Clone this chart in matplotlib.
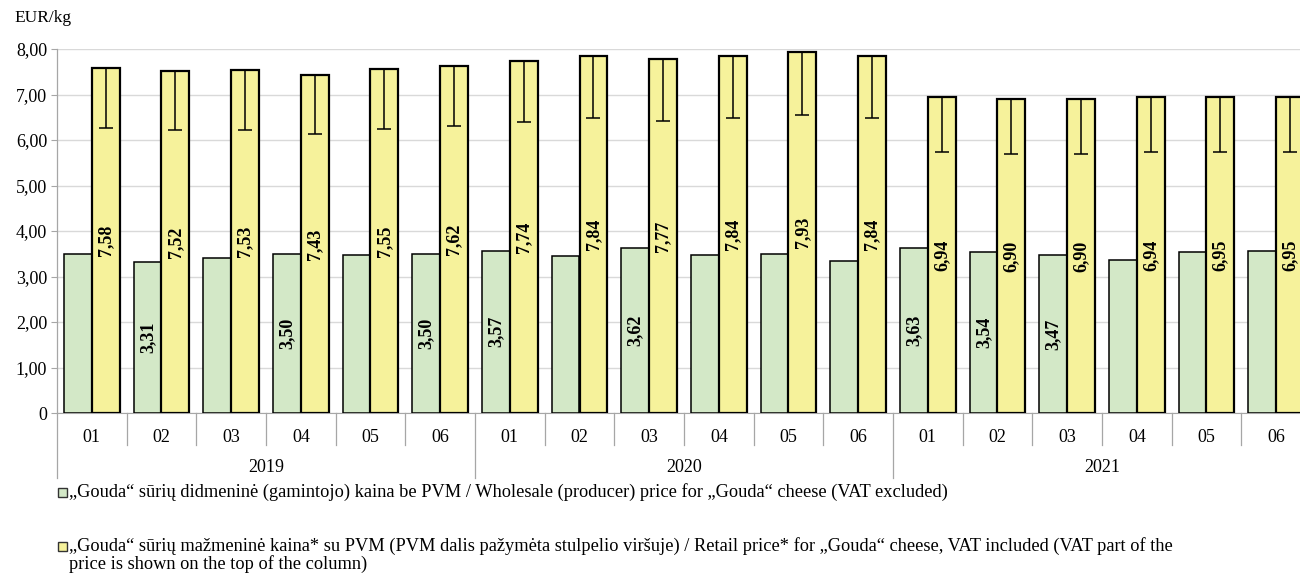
import numpy as np
import matplotlib
matplotlib.use("Agg")
import matplotlib.pyplot as plt
import matplotlib.transforms as mtransforms
from matplotlib.patches import Rectangle

plt.rcParams.update({
    "font.family": ["Liberation Serif", "DejaVu Serif"],
    "font.size": 13,
})

months = ["01", "02", "03", "04", "05", "06"] * 3
years = ["2019", "2020", "2021"]

wholesale = [3.50, 3.31, 3.40, 3.50, 3.47, 3.50,
             3.57, 3.45, 3.62, 3.47, 3.49, 3.34,
             3.63, 3.54, 3.47, 3.37, 3.54, 3.57]
retail = [7.58, 7.52, 7.53, 7.43, 7.55, 7.62,
          7.74, 7.84, 7.77, 7.84, 7.93, 7.84,
          6.94, 6.90, 6.90, 6.94, 6.95, 6.95]
# retail price without VAT (lower end of the VAT mark)
retail_no_vat = [6.26, 6.21, 6.22, 6.14, 6.24, 6.30,
                 6.40, 6.48, 6.42, 6.48, 6.55, 6.48,
                 5.74, 5.70, 5.70, 5.74, 5.74, 5.74]
# wholesale bars that carry a value label
wholesale_labelled = [1, 3, 5, 6, 8, 12, 13, 14]

green = "#d3e8c7"
yellow = "#f6f29b"
grey = "#a6a6a6"

fig = plt.figure(figsize=(13, 5.76), dpi=100)
ax = fig.add_axes([57 / 1300, 1 - 413 / 576, (1311 - 57) / 1300, (413 - 49) / 576])

x = np.arange(len(months))
w = 0.4
ax.bar(x - w / 2, wholesale, w, color=green, edgecolor="black", linewidth=1.1, zorder=3)
ax.bar(x + w / 2, retail, w, color=yellow, edgecolor="black", linewidth=1.6, zorder=3)

lower = np.array(retail) - np.array(retail_no_vat)
ax.errorbar(x + w / 2, retail, yerr=[lower, np.zeros(len(x))], fmt="none",
            ecolor="black", elinewidth=1.1, capsize=5, capthick=1.1, zorder=4)

for i, v in enumerate(retail):
    ax.text(x[i] + w / 2, v / 2, f"{v:.2f}".replace(".", ","), rotation=90,
            ha="center", va="center", fontsize=13, fontweight="bold", zorder=5)
for i in wholesale_labelled:
    v = wholesale[i]
    ax.text(x[i] - w / 2, v / 2, f"{v:.2f}".replace(".", ","), rotation=90,
            ha="center", va="center", fontsize=13, fontweight="bold", zorder=5)

ax.set_xlim(-0.5, len(months) - 0.5)
ax.set_ylim(0, 8)
ax.set_yticks(np.arange(0, 9, 1))
ax.set_yticklabels(["0"] + [f"{v:.2f}".replace(".", ",") for v in np.arange(1, 9, 1)])
ax.yaxis.grid(True, color="#d9d9d9", linewidth=1.0, zorder=0)
ax.set_axisbelow(True)
for s in ["top", "right", "left"]:
    ax.spines[s].set_visible(False)
ax.spines["bottom"].set_color(grey)
ax.tick_params(axis="y", length=4, color=grey, pad=3, labelsize=13)
ax.set_xticks([])

# category axis: month labels, year labels and separators
trans = mtransforms.blended_transform_factory(ax.transData, ax.transAxes)
px = 1 / (413 - 49)
for i, m in enumerate(months):
    ax.text(i, -24 * px, m, transform=trans, ha="center", va="center", fontsize=13)
for k, yr in enumerate(years):
    ax.text(k * 6 + 2.5, -54 * px, yr, transform=trans, ha="center", va="center", fontsize=13)
for b in np.arange(-0.5, len(months), 1):
    depth = 65 if (b + 0.5) % 6 == 0 else 32
    ax.plot([b, b], [0, -depth * px], transform=trans, color=grey, linewidth=0.9, clip_on=False)
ax.plot([-0.5, -0.5], [1, 0], transform=trans, color=grey, linewidth=0.9, clip_on=False)

fig.text(14 / 1300, 1 - 18 / 576, "EUR/kg", ha="left", va="center", fontsize=12.5)

legend_items = [
    (green, 492, "„Gouda“ sūrių didmeninė (gamintojo) kaina be PVM / Wholesale (producer) price for „Gouda“ cheese (VAT excluded)"),
    (yellow, 546, "„Gouda“ sūrių mažmeninė kaina* su PVM (PVM dalis pažymėta stulpelio viršuje) / Retail price* for „Gouda“ cheese, VAT included (VAT part of the\nprice is shown on the top of the column)"),
]
for color, ypx, label in legend_items:
    fig.add_artist(Rectangle((58 / 1300, 1 - (ypx + 4.5) / 576), 9 / 1300, 9 / 576,
                             transform=fig.transFigure, facecolor=color,
                             edgecolor="#333333", linewidth=1.0))
    fig.text(69 / 1300, 1 - (ypx - 9) / 576, label, ha="left", va="top",
             fontsize=13.2, linespacing=1.0)

fig.savefig("out.png", dpi=100)
